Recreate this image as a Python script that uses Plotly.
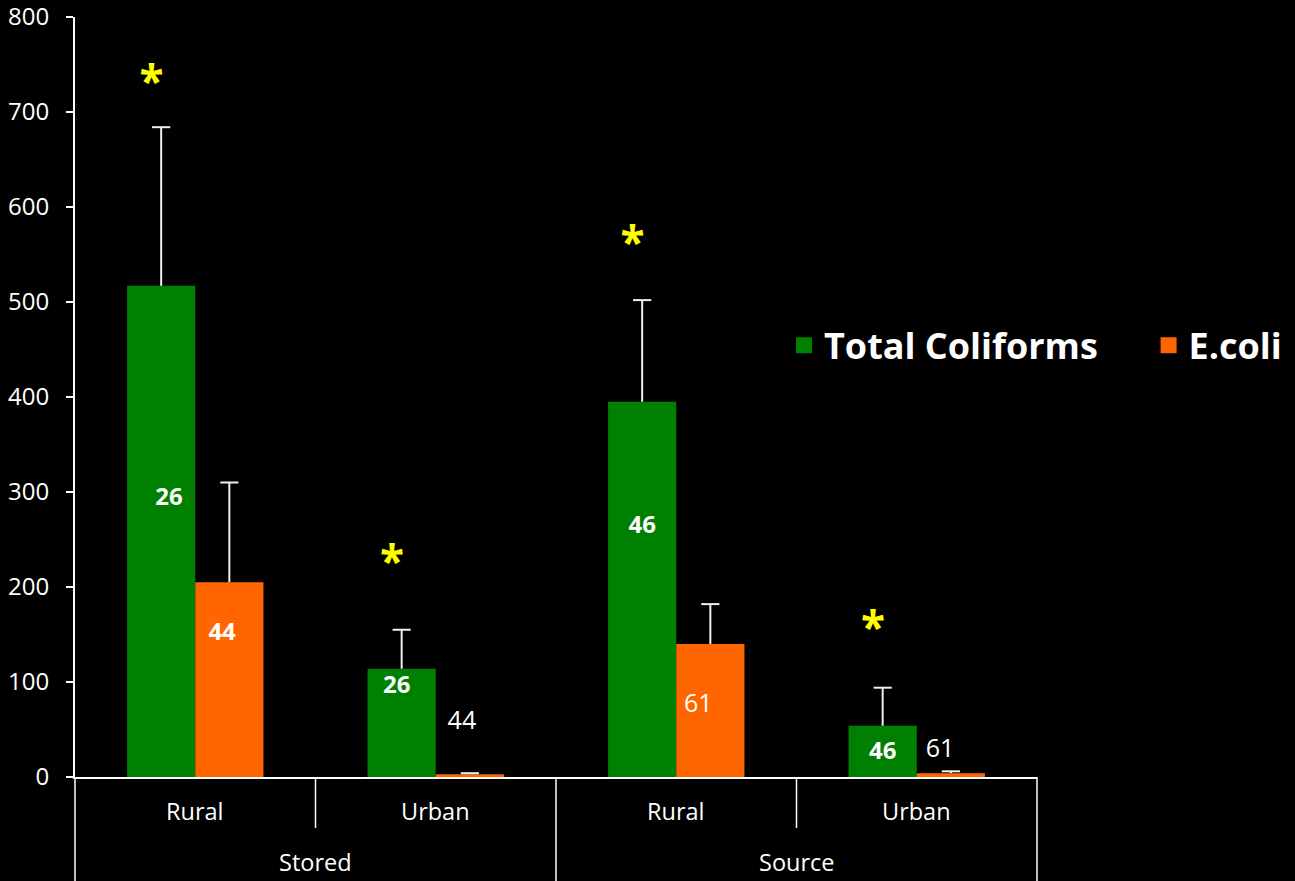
import plotly.graph_objects as go

sources = ["Stored", "Stored", "Source", "Source"]
areas = ["Rural", "Urban", "Rural", "Urban"]
groups = ["Stored", "Source"]
tc_values = [517, 114, 395, 54]
tc_err = [167, 41, 107, 40]
ec_values = [205, 3, 140, 4]
ec_err = [105, 1, 42, 2]
tc_n = ["26", "26", "46", "46"]
ec_n = ["44", "44", "61", "61"]
star_y = [727, 222, 558, 153]
tc_label_y = [293, 95, 263, 25]
ec_label_y = [151, 57, 75, 28]
tc_label_dx = [0.033, -0.02, 0, 0]
ec_label_dx = [-0.03, -0.033, -0.05, -0.045]
tc_label_bold = [True, True, True, True]
ec_label_bold = [True, False, False, False]

GREEN = "#008000"
ORANGE = "#FF6600"
ERR = "#F0F0F0"
FONT = "Open Sans"

fig = go.Figure()
fig.add_trace(go.Bar(x=[sources, areas], y=tc_values, name="Total Coliforms",
                     marker=dict(color=GREEN, line=dict(width=0)), showlegend=False))
fig.add_trace(go.Bar(x=[sources, areas], y=ec_values, name="E.coli",
                     marker=dict(color=ORANGE, line=dict(width=0)), showlegend=False))

bargap = 0.433
half = (1 - bargap) / 4
idx = list(range(len(areas)))
tc_x = [i - half for i in idx]
ec_x = [i + half for i in idx]

# error bars (upper part only), derived from the data
for xs, vals, errs in [(tc_x, tc_values, tc_err), (ec_x, ec_values, ec_err)]:
    lx, ly = [], []
    for x, v, e in zip(xs, vals, errs):
        lx += [x, x, None]
        ly += [v, v + e, None]
    fig.add_trace(go.Scatter(x=lx, y=ly, mode="lines", xaxis="x2", showlegend=False,
                             line=dict(color=ERR, width=2), hoverinfo="skip"))
    fig.add_trace(go.Scatter(x=xs, y=[v + e for v, e in zip(vals, errs)], mode="markers",
                             xaxis="x2", showlegend=False, hoverinfo="skip",
                             marker=dict(symbol="line-ew", size=13,
                                         line=dict(color=ERR, width=2))))

# n labels
for xs, dxs, ys, txt, bold in [(tc_x, tc_label_dx, tc_label_y, tc_n, tc_label_bold),
                                (ec_x, ec_label_dx, ec_label_y, ec_n, ec_label_bold)]:
    for x, dx, y, t, b in zip(xs, dxs, ys, txt, bold):
        fig.add_trace(go.Scatter(
            x=[x + dx], y=[y], text=[t], mode="text", xaxis="x2", showlegend=False,
            hoverinfo="skip",
            textfont=dict(color="white", size=24 if b else 25, family=FONT,
                          weight="bold" if b else "normal")))

# significance stars
fig.add_trace(go.Scatter(
    x=[x - 0.04 for x in tc_x], y=star_y, text=["*"] * 4, mode="text", xaxis="x2",
    showlegend=False, hoverinfo="skip",
    textfont=dict(color="#FFFF00", size=44, family=FONT, weight="bold")))

# legend entries
fig.add_trace(go.Scatter(x=[None], y=[None], mode="markers", name="Total Coliforms",
                         marker=dict(symbol="square", size=24, color=GREEN), legend="legend"))
fig.add_trace(go.Scatter(x=[None], y=[None], mode="markers", name="E.coli",
                         marker=dict(symbol="square", size=24, color=ORANGE), legend="legend2"))

shapes = []
for px, full in [(0, True), (0.25, False), (0.5, True), (0.75, False), (1.0, True)]:
    shapes.append(dict(type="line", xref="paper", yref="paper", x0=px, x1=px,
                       y0=0, y1=-0.14 if full else -0.067,
                       line=dict(color="white", width=1.5)))

annotations = []
for i, a in enumerate(areas):
    annotations.append(dict(x=i, y=-0.0447, xref="x2", yref="paper", text=a,
                            showarrow=False, yanchor="middle",
                            font=dict(size=23.5, color="white", family=FONT)))
for j, g in enumerate(groups):
    annotations.append(dict(x=2 * j + 0.5, y=-0.1118, xref="x2", yref="paper", text=g,
                            showarrow=False, yanchor="middle",
                            font=dict(size=23.5, color="white", family=FONT)))

legend_font = dict(size=36, color="white", family=FONT, weight="bold")
fig.update_layout(
    width=1295, height=881,
    paper_bgcolor="black", plot_bgcolor="black",
    margin=dict(l=75, r=258, t=17, b=104, autoexpand=False),
    barmode="group", bargap=bargap, bargroupgap=0,
    font=dict(family=FONT, color="white"),
    shapes=shapes, annotations=annotations,
    legend=dict(x=0.737, xanchor="left", y=0.568, yanchor="middle",
                font=legend_font, bgcolor="rgba(0,0,0,0)", itemsizing="trace"),
    legend2=dict(x=1.116, xanchor="left", y=0.568, yanchor="middle",
                 font=legend_font, bgcolor="rgba(0,0,0,0)", itemsizing="trace"),
    xaxis=dict(type="multicategory", showdividers=False, showline=True, linecolor="white",
               linewidth=2, ticks="", showticklabels=False,
               showgrid=False, zeroline=False),
    xaxis2=dict(overlaying="x", range=[-0.5, 3.5], visible=False),
    yaxis=dict(range=[0, 800], dtick=100, showline=True, linecolor="white", linewidth=2,
               ticks="outside", ticklen=7, tickwidth=2, tickcolor="white",
               ticklabelstandoff=12, ticklabeloverflow="allow",
               tickfont=dict(size=24, color="white", family=FONT),
               showgrid=False, zeroline=False),
)

fig.write_html("out.html", config={"displayModeBar": False}, post_script=(
    "document.body.style.margin='0';document.body.style.background='black';"))
